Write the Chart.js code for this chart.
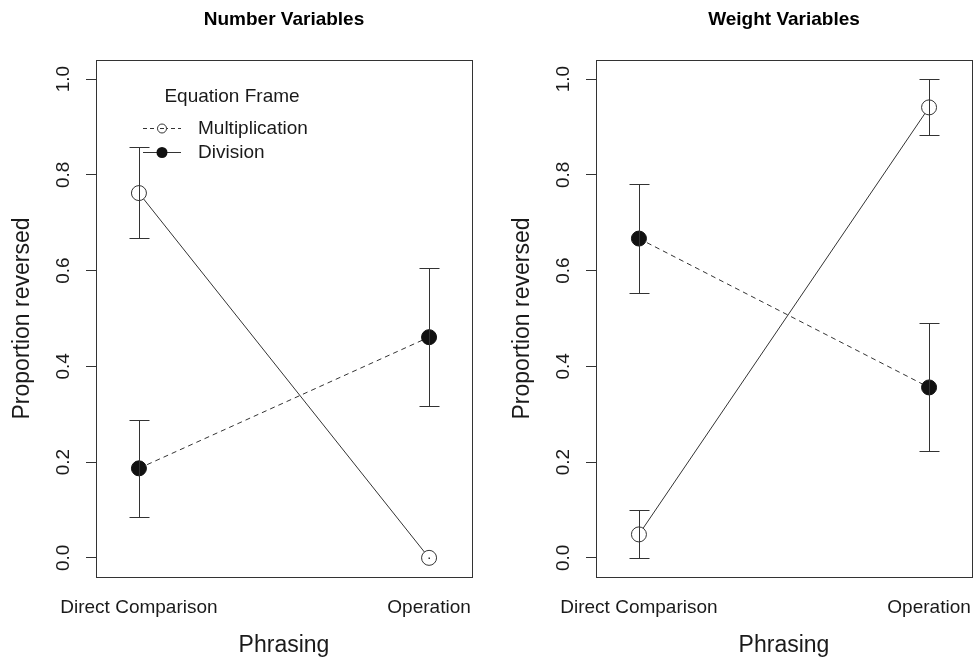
<!DOCTYPE html>
<html>
<head>
<meta charset="utf-8">
<script src="https://cdn.jsdelivr.net/npm/chart.js@4.4.1/dist/chart.umd.min.js"></script>
<style>
html, body { margin: 0; padding: 0; width: 973px; height: 660px; overflow: hidden; background: #ffffff; }
canvas { position: absolute; top: 0; }
#numberChart { left: 0px; }
#weightChart { left: 500px; }
</style>
</head>
<body>
<canvas id="numberChart" width="568" height="660"></canvas>
<canvas id="weightChart" width="568" height="660"></canvas>
<script>
// ---------- data ----------
const categories = ["Direct Comparison", "Operation"];
const yTicks = [0, 0.2, 0.4, 0.6, 0.8, 1.0];
const yTickLabels = ["0.0", "0.2", "0.4", "0.6", "0.8", "1.0"];
const panelTitles = ["Number Variables", "Weight Variables"];
const seriesNames = ["Multiplication", "Division"];
const legendTitle = "Equation Frame";
const xAxisTitle = "Phrasing";
const yAxisTitle = "Proportion reversed";

// Number Variables panel
const numberMult   = [0.762, 0.000];
const numberMultLo = [0.668, 0.000];
const numberMultHi = [0.858, 0.000];
const numberDiv    = [0.187, 0.461];
const numberDivLo  = [0.086, 0.318];
const numberDivHi  = [0.288, 0.605];

// Weight Variables panel
const weightMult   = [0.049, 0.941];
const weightMultLo = [0.000, 0.883];
const weightMultHi = [0.100, 1.000];
const weightDiv    = [0.667, 0.356];
const weightDivLo  = [0.553, 0.224];
const weightDivHi  = [0.781, 0.490];

// ---------- styling ----------
const FONT = "'Liberation Sans', Arial, Helvetica, sans-serif";
const INK = "#333333";
const TEXT = "#1a1a1a";

// plot frame
const boxPlugin = {
  id: "frameBox",
  beforeDatasetsDraw(chart) {
    const { ctx, chartArea: a } = chart;
    ctx.save();
    ctx.strokeStyle = INK;
    ctx.lineWidth = 1;
    ctx.strokeRect(Math.round(a.left) + 0.5, Math.round(a.top) + 0.5,
                   Math.round(a.right - a.left), Math.round(a.bottom - a.top));
    ctx.restore();
  }
};

// error bars from the dataset's lo/hi arrays
const errPlugin = {
  id: "errorBars",
  afterDatasetsDraw(chart) {
    const ctx = chart.ctx, xs = chart.scales.x, ys = chart.scales.y;
    ctx.save();
    ctx.strokeStyle = INK;
    ctx.fillStyle = INK;
    ctx.lineWidth = 1;
    chart.data.datasets.forEach(ds => {
      if (!ds.errLo) return;
      ds.data.forEach((p, i) => {
        const x = Math.round(xs.getPixelForValue(p.x)) + 0.5;
        const y1 = Math.round(ys.getPixelForValue(ds.errLo[i])) + 0.5;
        const y2 = Math.round(ys.getPixelForValue(ds.errHi[i])) + 0.5;
        if (Math.abs(y1 - y2) < 1) {
          ctx.fillRect(x - 1, y1 - 1, 1.5, 1.5);
          return;
        }
        ctx.beginPath();
        ctx.moveTo(x, y1); ctx.lineTo(x, y2);
        ctx.moveTo(x - 10, y1); ctx.lineTo(x + 10, y1);
        ctx.moveTo(x - 10, y2); ctx.lineTo(x + 10, y2);
        ctx.stroke();
      });
    });
    ctx.restore();
  }
};

// rotated y tick labels (R style, reading bottom to top)
const yLabelPlugin = {
  id: "rotYLabels",
  afterDraw(chart) {
    const s = chart.scales.y, ctx = chart.ctx;
    ctx.save();
    ctx.font = "19px " + FONT;
    ctx.fillStyle = TEXT;
    ctx.textAlign = "center";
    ctx.textBaseline = "middle";
    s.ticks.forEach(t => {
      const idx = yTicks.indexOf(t.value);
      if (idx < 0) return;
      const y = s.getPixelForValue(t.value);
      ctx.save();
      ctx.translate(chart.chartArea.left - 32, y);
      ctx.rotate(-Math.PI / 2);
      ctx.fillText(yTickLabels[idx], 0, 0);
      ctx.restore();
    });
    ctx.restore();
  }
};

// legend drawn inside the left panel (as in the original figure)
const legendPlugin = {
  id: "frameLegend",
  afterDraw(chart, args, opts) {
    if (!opts || !opts.show) return;
    const ctx = chart.ctx, a = chart.chartArea;
    const items = [
      { label: seriesNames[0], dash: [4, 3], filled: false, r: 4.5 },
      { label: seriesNames[1], dash: [], filled: true, r: 5.5 }
    ];
    ctx.save();
    ctx.font = "19px " + FONT;
    ctx.fillStyle = TEXT;
    ctx.textBaseline = "middle";
    ctx.textAlign = "center";
    ctx.fillText(legendTitle, a.left + 136, a.top + 37);
    ctx.textAlign = "left";
    items.forEach((it, i) => {
      const y = Math.round(a.top + 68 + i * 24) + 0.5;
      const x0 = a.left + 47, x1 = a.left + 85, xc = a.left + 66;
      ctx.strokeStyle = INK;
      ctx.lineWidth = 1;
      ctx.setLineDash(it.dash);
      ctx.beginPath(); ctx.moveTo(x0, y); ctx.lineTo(x1, y); ctx.stroke();
      ctx.setLineDash([]);
      ctx.beginPath();
      ctx.arc(xc, y, it.r, 0, Math.PI * 2);
      if (it.filled) { ctx.fillStyle = "#111"; ctx.fill(); }
      else { ctx.fillStyle = "#fff"; ctx.fill(); ctx.stroke(); ctx.beginPath(); ctx.moveTo(xc - 2, y); ctx.lineTo(xc + 2, y); ctx.stroke(); }
      ctx.fillStyle = TEXT;
      ctx.fillText(it.label, a.left + 102, y);
    });
    ctx.restore();
  }
};

function makeChart(id, title, mult, multLo, multHi, div, divLo, divHi, showLegend) {
  const pts = arr => arr.map((v, i) => ({ x: i + 1, y: v }));
  return new Chart(document.getElementById(id), {
    type: "line",
    data: {
      datasets: [
        {
          label: seriesNames[0], data: pts(mult), errLo: multLo, errHi: multHi,
          borderColor: INK, borderWidth: 1, tension: 0, fill: false,
          pointStyle: "circle", pointRadius: 7.5, pointBackgroundColor: "#ffffff",
          pointBorderColor: INK, pointBorderWidth: 1
        },
        {
          label: seriesNames[1], data: pts(div), errLo: divLo, errHi: divHi,
          borderColor: INK, borderWidth: 1, borderDash: [5, 4], tension: 0, fill: false,
          pointStyle: "circle", pointRadius: 7.5, pointBackgroundColor: "#111111",
          pointBorderColor: "#111111", pointBorderWidth: 1
        }
      ]
    },
    options: {
      responsive: false,
      animation: false,
      events: [],
      layout: { padding: 0 },
      plugins: {
        legend: { display: false },
        tooltip: { enabled: false },
        title: {
          display: true, text: title, color: "#000",
          font: { family: FONT, size: 19, weight: "bold" },
          padding: { top: 8, bottom: 29.2 }
        },
        frameLegend: { show: showLegend }
      },
      scales: {
        x: {
          type: "linear", min: 0.852, max: 2.148,
          afterBuildTicks: s => { s.ticks = categories.map((c, i) => ({ value: i + 1 })); },
          ticks: {
            callback: v => categories[Math.round(v) - 1],
            autoSkip: false, maxRotation: 0, minRotation: 0, padding: 19,
            color: TEXT, font: { family: FONT, size: 19 }
          },
          grid: { display: false, drawTicks: false },
          border: { display: false },
          title: {
            display: true, text: xAxisTitle, color: TEXT,
            font: { family: FONT, size: 23 }, padding: { top: 0, bottom: 1 }
          },
          afterFit: s => { s.height = 83; }
        },
        y: {
          position: "left", min: -0.04, max: 1.04,
          afterBuildTicks: s => { s.ticks = yTicks.map(v => ({ value: v })); },
          ticks: { display: false },
          grid: { display: true, drawOnChartArea: false, drawTicks: true, tickLength: 10, color: INK },
          border: { display: true, color: INK },
          title: {
            display: true, text: yAxisTitle, color: TEXT,
            font: { family: FONT, size: 23 }, padding: { top: 9, bottom: 0 }
          },
          afterFit: s => { s.width = 96; }
        },
        yR: {
          position: "right", min: 0, max: 1,
          ticks: { display: false },
          grid: { display: false },
          border: { display: false },
          afterFit: s => { s.width = 96; }
        }
      }
    },
    plugins: [boxPlugin, errPlugin, yLabelPlugin, legendPlugin]
  });
}

makeChart("numberChart", panelTitles[0], numberMult, numberMultLo, numberMultHi,
          numberDiv, numberDivLo, numberDivHi, true);
makeChart("weightChart", panelTitles[1], weightMult, weightMultLo, weightMultHi,
          weightDiv, weightDivLo, weightDivHi, false);
</script>
</body>
</html>
